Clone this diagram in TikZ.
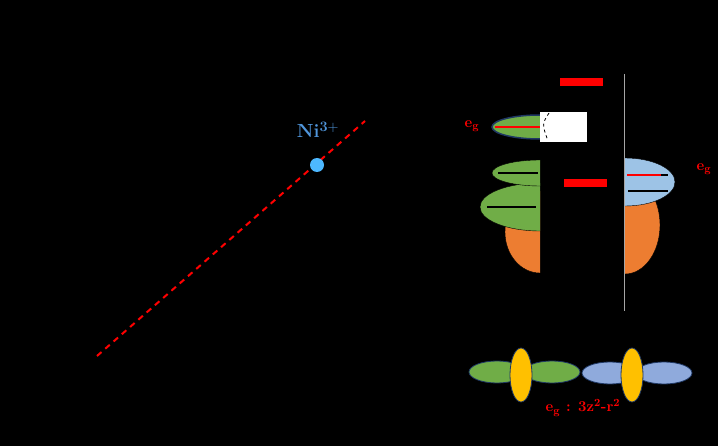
\documentclass[tikz,border=0pt]{standalone}
\begin{document}
\begin{tikzpicture}[x=1pt,y=-1pt]
\definecolor{gr}{RGB}{112,173,71}
\definecolor{org}{RGB}{237,125,49}
\definecolor{lb}{RGB}{157,195,230}
\definecolor{pb}{RGB}{143,170,220}
\definecolor{yl}{RGB}{255,192,0}
\definecolor{nb}{RGB}{31,56,100}
\tikzset{lbl/.style={text=red,font=\bfseries\fontsize{15}{17}\selectfont,inner sep=0pt},
 orb/.style={draw=nb,line width=0.8pt},
 lev/.style={line width=2pt}}
\fill[black] (0,0) rectangle (718,446);
\useasboundingbox (0,0) rectangle (718,446);
\coordinate (l1) at (97,356); \coordinate (l2) at (365,121);
\draw[red,dash pattern=on 6pt off 5pt,line width=2pt] (l1) -- (l2);
\node[circle,fill={rgb,255:red,77;green,184;blue,255},minimum size=14pt,inner sep=0pt] (ni) at (317,165) {};
\node[text={rgb,255:red,80;green,150;blue,220},font=\bfseries\fontsize{19}{21}\selectfont,inner sep=0pt] (nit) at (318,130) {Ni$^{\mathbf{3+}}$};
% left
\begin{scope}
\clip (400,60) rectangle (540,320);
\fill[org,draw=black] (540,232) ellipse (35 and 41);
\fill[gr,draw=black] (540,207) ellipse (60 and 24);
\fill[gr,draw=black] (540,173) ellipse (48 and 13);
\filldraw[gr,draw=nb,line width=1.5pt] (540,127) ellipse (48 and 12);
\end{scope}
\draw[red,lev] (495,127) -- (540,127);
\draw[lev] (498,173) -- (538,173);
\draw[lev] (487,207) -- (536,207);
\fill[white] (540,112) rectangle (587,142);
\draw[dashed,thick] (549,113) .. controls (542,124) .. (548,141);
% right
\begin{scope}
\clip (625,60) rectangle (718,320);
\fill[org,draw=black] (625,225) ellipse (35 and 49);
\fill[lb,draw=black] (625,182) ellipse (50 and 24);
\end{scope}
\draw[lev] (627,175) -- (668,175);
\draw[red,lev] (627,175) -- (661,175);
\draw[lev] (628,191) -- (668,191);
\draw[gray!70] (624,74) -- (624,311);
\fill[red] (560,78) rectangle (603,86);
\fill[red] (564,179) rectangle (607,187);
\node[lbl] (e1) at (472,126) {e$_\mathbf{g}$};
\node[lbl] (e2) at (704,169) {e$_\mathbf{g}$};
% bottom
\filldraw[gr,orb] (497,372) ellipse (28 and 11);
\filldraw[gr,orb] (552,372) ellipse (28 and 11);
\filldraw[yl,orb] (521,375) ellipse (11 and 27);
\filldraw[pb,orb] (610,373) ellipse (28 and 11);
\filldraw[pb,orb] (664,373) ellipse (28 and 11);
\filldraw[yl,orb] (632,375) ellipse (11 and 27);
\node[lbl] (e3) at (583,408) {e$_\mathbf{g}$ : 3z$^\mathbf{2}$-r$^\mathbf{2}$};
\end{tikzpicture}
\end{document}
